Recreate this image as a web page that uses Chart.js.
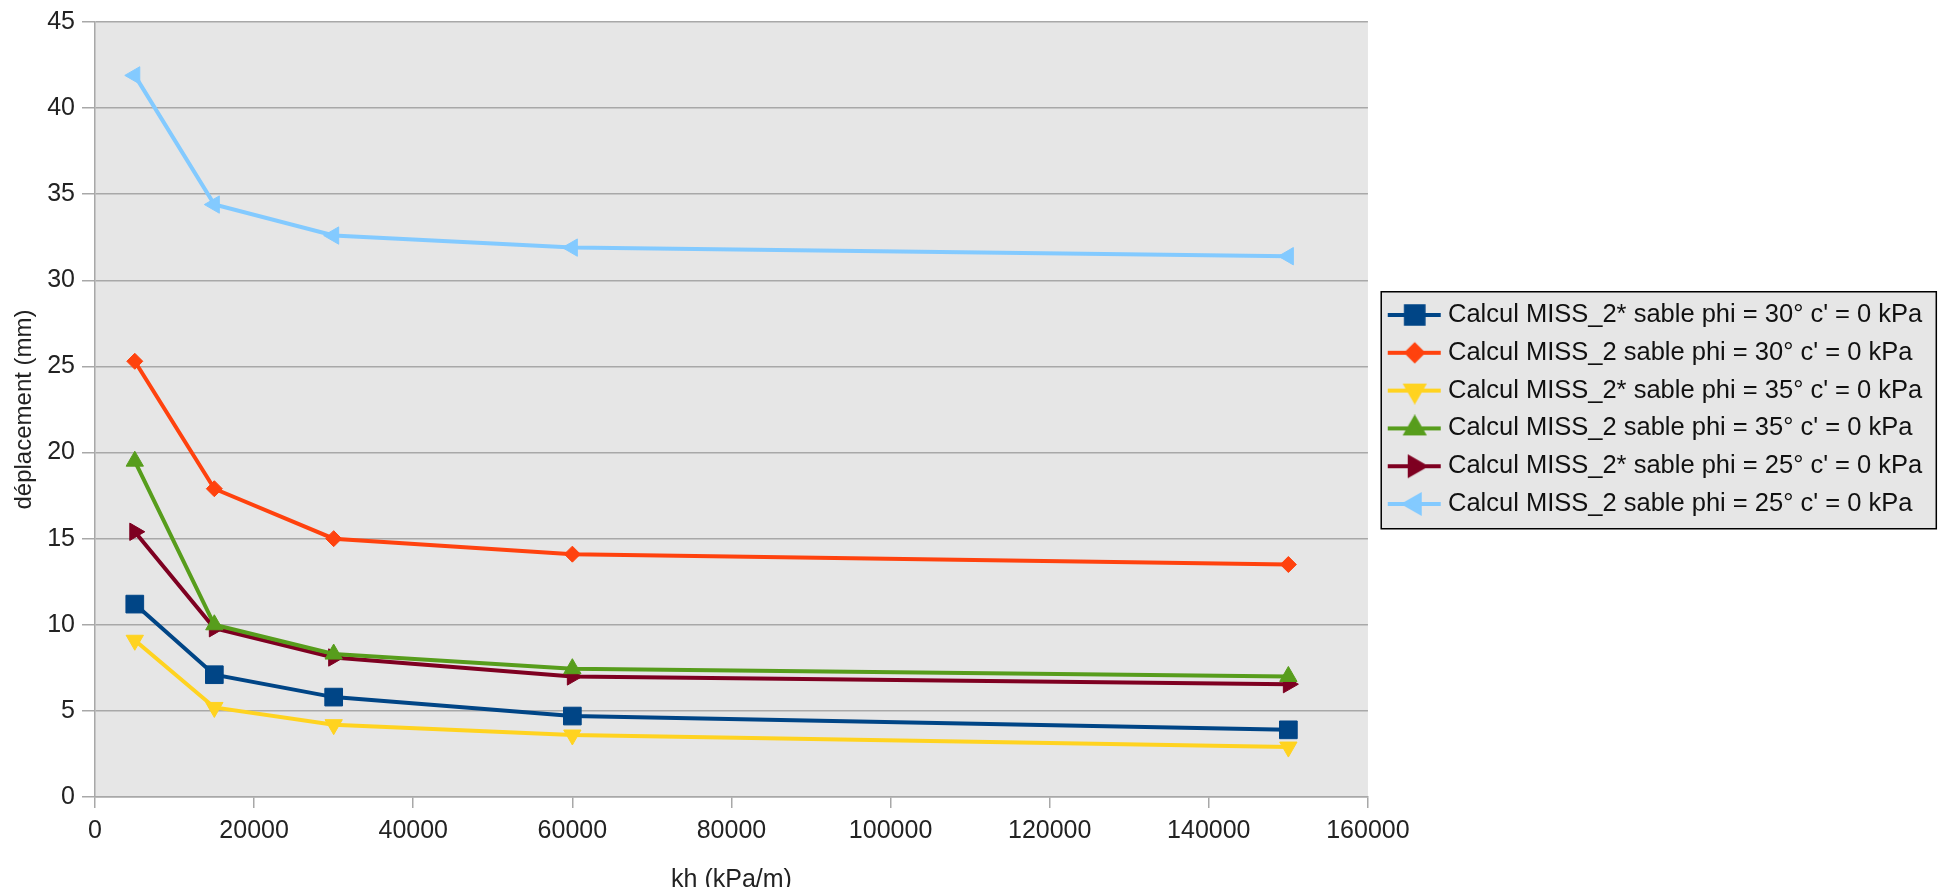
<!DOCTYPE html>
<html>
<head>
<meta charset="utf-8">
<script src="https://cdn.jsdelivr.net/npm/chart.js@4.4.1/dist/chart.umd.min.js"></script>
<style>
html, body { margin: 0; padding: 0; background: #fff; }
#wrap { width: 1944px; height: 887px; }
</style>
</head>
<body>
<div id="wrap"><canvas id="chart-kh"></canvas></div>
<script>
// kh (kPa/m) values
var kh = [5000, 15000, 30000, 60000, 150000];

// deplacement (mm) per calcul
var miss2s30 = [11.2, 7.1, 5.8, 4.7, 3.9];
var miss2_30 = [25.3, 17.9, 15.0, 14.1, 13.5];
var miss2s35 = [9.1, 5.2, 4.2, 3.6, 2.9];
var miss2_35 = [19.5, 10.0, 8.3, 7.45, 7.0];
var miss2s25 = [15.4, 9.8, 8.1, 7.0, 6.55];
var miss2_25 = [41.9, 34.4, 32.6, 31.9, 31.4];

var seriesLabels = [
  "Calcul MISS_2* sable phi = 30° c' = 0 kPa",
  "Calcul MISS_2 sable phi = 30° c' = 0 kPa",
  "Calcul MISS_2* sable phi = 35° c' = 0 kPa",
  "Calcul MISS_2 sable phi = 35° c' = 0 kPa",
  "Calcul MISS_2* sable phi = 25° c' = 0 kPa",
  "Calcul MISS_2 sable phi = 25° c' = 0 kPa"
];

// axis ranges
var xMin = 0, xMax = 160000, xStep = 20000;
var yMin = 0, yMax = 45, yStep = 5;

var FONT = "'Liberation Sans', Arial, sans-serif";

var styles = [
  { color: '#004586', pointStyle: 'rect', rotation: 0, radius: 12.5 },
  { color: '#ff420e', pointStyle: 'rectRot', rotation: 0, radius: 8 },
  { color: '#ffd320', pointStyle: 'triangle', rotation: 180, radius: 10 },
  { color: '#579d1c', pointStyle: 'triangle', rotation: 0, radius: 10 },
  { color: '#7e0021', pointStyle: 'triangle', rotation: 90, radius: 10 },
  { color: '#83caff', pointStyle: 'triangle', rotation: 270, radius: 10 }
];

function toPoints(values) {
  return values.map(function (v, i) { return { x: kh[i], y: v }; });
}

// little line + marker picture for each legend entry
function legendIcon(st) {
  var c = document.createElement('canvas');
  c.width = 70;
  c.height = 28;
  var g = c.getContext('2d');
  g.strokeStyle = st.color;
  g.fillStyle = st.color;
  g.lineWidth = 4;
  g.beginPath();
  g.moveTo(15, 14);
  g.lineTo(68, 14);
  g.stroke();
  Chart.helpers.drawPoint(g, {
    pointStyle: st.pointStyle,
    rotation: st.rotation,
    radius: st.radius,
    borderWidth: 1
  }, 42, 14);
  return c;
}

var allSeries = [miss2s30, miss2_30, miss2s35, miss2_35, miss2s25, miss2_25];

var datasets = allSeries.map(function (vals, i) {
  var st = styles[i];
  return {
    label: seriesLabels[i],
    data: toPoints(vals),
    borderColor: st.color,
    backgroundColor: st.color,
    borderWidth: 4,
    pointStyle: st.pointStyle,
    rotation: st.rotation,
    pointRadius: st.radius,
    pointBorderWidth: 1,
    tension: 0
  };
});

var icons = styles.map(legendIcon);

var backdrop = {
  id: 'backdrop',
  beforeDraw: function (chart) {
    var ctx = chart.ctx, a = chart.chartArea, legend = chart.legend;
    ctx.save();
    ctx.fillStyle = '#e6e6e6';
    ctx.fillRect(a.left, a.top, a.right - a.left, a.bottom - a.top);
    var boxes = legend.legendHitBoxes;
    if (boxes && boxes.length) {
      var first = boxes[0], last = boxes[boxes.length - 1];
      var right = 0;
      boxes.forEach(function (b) { right = Math.max(right, b.left + b.width); });
      var l = first.left + 1, t = first.top - 10.5;
      var r = right + 14, b = last.top + last.height + 12;
      ctx.fillStyle = '#e6e6e6';
      ctx.fillRect(l, t, r - l, b - t);
      ctx.strokeStyle = '#000';
      ctx.lineWidth = 1.5;
      ctx.strokeRect(l, t, r - l, b - t);
    }
    ctx.restore();
  }
};

var ctx = document.getElementById('chart-kh');
new Chart(ctx, {
  type: 'line',
  data: { datasets: datasets },
  plugins: [backdrop],
  options: {
    responsive: true,
    maintainAspectRatio: false,
    animation: false,
    devicePixelRatio: 1,
    layout: { padding: { top: 22, left: 0, right: 11.7, bottom: -6 } },
    plugins: {
      tooltip: { enabled: false },
      legend: {
        position: 'right',
        fullSize: false,
        align: 'center',
        maxWidth: 620,
        labels: {
          font: { family: FONT, size: 25.5 },
          color: '#111',
          padding: 12.3,
          usePointStyle: true,
          pointStyleWidth: 55,
          generateLabels: function (chart) {
            var items = Chart.defaults.plugins.legend.labels.generateLabels(chart);
            items.forEach(function (it, i) {
              it.pointStyle = icons[i];
              it.rotation = 0;
            });
            return items;
          }
        }
      }
    },
    scales: {
      x: {
        type: 'linear',
        min: xMin,
        max: xMax,
        ticks: {
          stepSize: xStep,
          font: { family: FONT, size: 25 },
          color: '#222',
          padding: 8,
          maxRotation: 0,
          callback: function (v) { return String(v); }
        },
        grid: {
          drawOnChartArea: false,
          drawTicks: true,
          tickLength: 11,
          color: '#a8a8a8',
          lineWidth: 1.5
        },
        border: { color: '#a8a8a8', width: 1.5 },
        title: {
          display: true,
          text: 'kh (kPa/m)',
          font: { family: FONT, size: 25, lineHeight: 1 },
          color: '#222',
          padding: { top: 14, bottom: 0 }
        }
      },
      y: {
        min: yMin,
        max: yMax,
        ticks: {
          stepSize: yStep,
          font: { family: FONT, size: 25 },
          color: '#222',
          padding: 7
        },
        grid: {
          color: '#a8a8a8',
          lineWidth: 1.5,
          tickLength: 13
        },
        border: { color: '#a8a8a8', width: 1.5 },
        title: {
          display: true,
          text: 'déplacement (mm)',
          font: { family: FONT, size: 24 },
          color: '#222',
          padding: { top: 10, bottom: 1.4 }
        }
      }
    }
  }
});
</script>
</body>
</html>
